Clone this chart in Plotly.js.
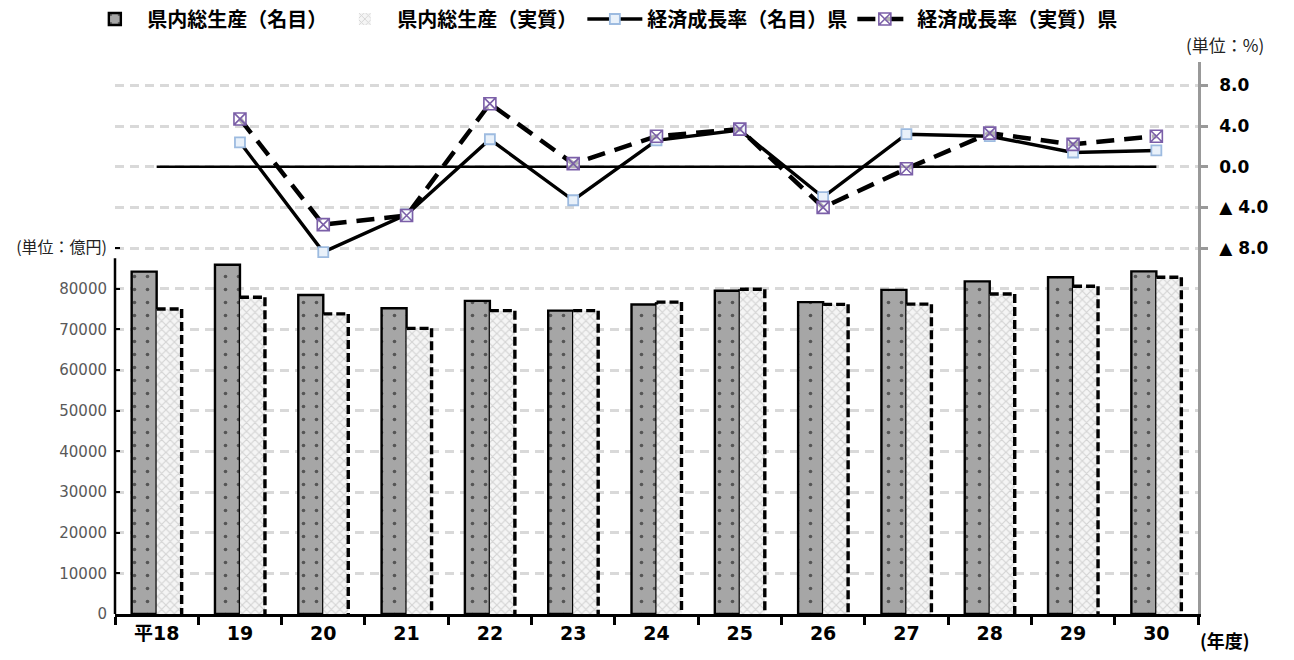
<!DOCTYPE html>
<html><head><meta charset="utf-8">
<script src="https://cdn.plot.ly/plotly-3.0.1.min.js"></script>
<style>html,body{margin:0;padding:0;background:#fff}#chart{width:1294px;height:660px}</style>
</head><body><div id="chart"></div>
<script>
const categories = ['平18','19','20','21','22','23','24','25','26','27','28','29','30'];
const gdpNominal = [84200, 85900, 78450, 75200, 77000, 74600, 76100, 79500, 76700, 79700, 81800, 82800, 84250];
const gdpReal    = [75000, 77900, 73800, 70250, 74600, 74600, 76700, 79850, 76150, 76200, 78700, 80600, 82800];
const growthNominal = [null, 2.4, -8.4, -4.7, 2.7, -3.3, 2.6, 3.6, -3.0, 3.2, 3.0, 1.4, 1.6];
const growthReal    = [null, 4.7, -5.7, -4.8, 6.2, 0.3, 3.0, 3.7, -4.0, -0.2, 3.3, 2.2, 3.0];
const leftTickVals = [0,10000,20000,30000,40000,50000,60000,70000,80000,90000];
const leftTickText = ['0','10000','20000','30000','40000','50000','60000','70000','80000','<span style="font-family:Noto Sans CJK JP;font-size:16px;color:#222">(単位：億円)</span>'];
const rightTickVals = [-8,-4,0,4,8];
const rightTickText = ['▲ 8.0','▲ 4.0','0.0','4.0','8.0'];
const seriesNames = ['県内総生産（名目）','県内総生産（実質）','経済成長率（名目）県','経済成長率（実質）県'];

const FONT = '"Noto Sans CJK JP", "Noto Sans", sans-serif';
const NUMFONT = '"DejaVu Sans", "Noto Sans CJK JP", sans-serif';
const bargap = 0.4;
const bw = (1 - bargap) / 2;

const traces = [
  {type:'bar', name:seriesNames[0], x:categories, y:gdpNominal, yaxis:'y',
   marker:{color:'#a6a6a6', line:{color:'#000', width:2.4},
     pattern:{shape:'.', fgcolor:'#555', bgcolor:'#a6a6a6', size:13, solidity:0.06}}},
  {type:'bar', name:seriesNames[1], x:categories, y:gdpReal, yaxis:'y',
   marker:{color:'#f2f2f2', line:{color:'rgba(0,0,0,0)', width:0},
     pattern:{shape:'x', fgcolor:'#d4d4d4', bgcolor:'#f5f5f5', size:6, solidity:0.35}}},
  {type:'scatter', mode:'lines', name:'zero', x:categories, y:categories.map(() => 0), yaxis:'y2',
   line:{color:'#000', width:2.5}, showlegend:false, hoverinfo:'skip'},
  {type:'scatter', mode:'lines+markers', name:seriesNames[2], x:categories, y:growthNominal, yaxis:'y2',
   line:{color:'#000', width:3.4}, connectgaps:false,
   marker:{symbol:'square', size:10, color:'#e9f1fa', line:{color:'#9dbbe0', width:1.8}}},
  {type:'scatter', mode:'lines+markers', name:seriesNames[3], x:categories, y:growthReal, yaxis:'y2',
   line:{color:'#000', width:4.5, dash:'18px,10px'},
   marker:{symbol:'square-x', size:12, color:'rgba(255,255,255,0.7)', line:{color:'#7b5fa8', width:1.6}}}
];

const shapes = [
  {type:'line', xref:'paper', yref:'y', x0:0, x1:0, y0:0, y1:87500, line:{color:'#000', width:2.5}}
];
gdpReal.forEach((r, i) => {
  const dl = {color:'#000', width:3.4, dash:'9px,4px'};
  shapes.push({type:'line', xref:'x', yref:'y', x0:i, x1:i+bw, y0:r, y1:r, line:dl});
  shapes.push({type:'line', xref:'x', yref:'y', x0:i+bw, x1:i+bw, y0:r, y1:0, line:dl});
  if (r > gdpNominal[i]) shapes.push({type:'line', xref:'x', yref:'y', x0:i, x1:i, y0:gdpNominal[i], y1:r, line:dl});
});

const layout = {
  width:1294, height:660,
  margin:{l:115, r:96, t:62, b:46, autoexpand:false},
  paper_bgcolor:'#fff', plot_bgcolor:'#fff',
  font:{family:FONT, color:'#000'},
  barmode:'group', bargap:bargap, bargroupgap:0,
  showlegend:true,
  legend:{orientation:'h', x:0.45, xanchor:'center', y:1+(62-19)/552, yanchor:'middle',
    font:{family:FONT, size:20, weight:'bold', color:'#000'}, itemwidth:55, traceorder:'normal'},
  xaxis:{type:'category', tickson:'boundaries', ticks:'outside', ticklen:8, tickwidth:2.5, tickcolor:'#000',
    showline:true, linecolor:'#000', linewidth:2.5, showgrid:false, zeroline:false,
    tickfont:{family:NUMFONT, size:19, weight:'bold', color:'#000'}, range:[-0.5, categories.length-0.5]},
  yaxis:{range:[0,135750], tickvals:leftTickVals, ticktext:leftTickText, ticks:'inside', ticklen:5, tickwidth:2, tickcolor:'#000',
    showline:false, zeroline:false, showgrid:true, gridcolor:'#d9d9d9', gridwidth:2.5, griddash:'9px,6px',
    tickfont:{family:NUMFONT, size:15, color:'#595959'}, ticklabelstandoff:7},
  yaxis2:{overlaying:'y', side:'right', range:[-44,10.3], tickvals:rightTickVals, ticktext:rightTickText,
    ticks:'outside', ticklen:7, tickwidth:2.5, tickcolor:'#999', showline:true, linecolor:'#999', linewidth:2.5,
    zeroline:false, showgrid:true, gridcolor:'#d9d9d9', gridwidth:2.5, griddash:'9px,6px',
    tickfont:{family:NUMFONT, size:17, weight:'bold', color:'#000'}, ticklabelstandoff:8},
  shapes:shapes,
  annotations:[
    {xref:'paper', yref:'paper', x:1.025, y:1+(62-45)/552, text:'(単位：%)', showarrow:false, xanchor:'center', yanchor:'middle',
     font:{family:FONT, size:17, color:'#222'}},
    {xref:'paper', yref:'paper', x:1.0, y:-(640-614)/552, text:'(年度)', showarrow:false, xanchor:'left', yanchor:'middle',
     font:{family:FONT, size:18, weight:'bold', color:'#000'}}
  ]
};
Plotly.newPlot('chart', traces, layout, {displayModeBar:false, responsive:false});
</script></body></html>
